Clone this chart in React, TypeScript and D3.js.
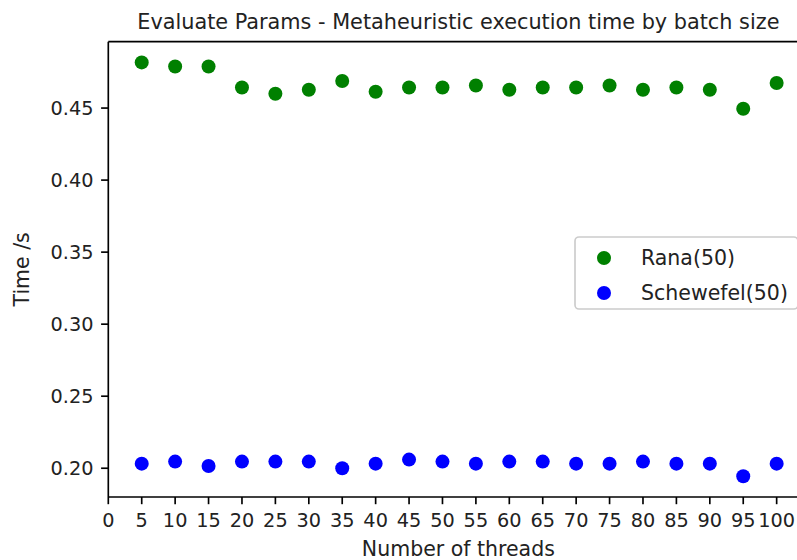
import React from "react";
import * as d3 from "d3";

// Thread counts on the x axis
const threads: number[] = [5, 10, 15, 20, 25, 30, 35, 40, 45, 50, 55, 60, 65, 70, 75, 80, 85, 90, 95, 100];

// Mean execution time (seconds) per thread count
const ranaTimes: number[] = [
  0.4817, 0.4789, 0.4789, 0.4643, 0.4599, 0.4627, 0.4688, 0.4613, 0.4643, 0.4643,
  0.4657, 0.4627, 0.4643, 0.4643, 0.4657, 0.4627, 0.4643, 0.4627, 0.4495, 0.4674,
];
const schewefelTimes: number[] = [
  0.2032, 0.2046, 0.2016, 0.2046, 0.2046, 0.2046, 0.2000, 0.2032, 0.2060, 0.2046,
  0.2032, 0.2046, 0.2046, 0.2032, 0.2032, 0.2046, 0.2032, 0.2032, 0.1944, 0.2032,
];

const xTicks: number[] = d3.range(0, 101, 5);
const yTicks: number[] = [0.2, 0.25, 0.3, 0.35, 0.4, 0.45];

const seriesNames: string[] = ["Rana(50)", "Schewefel(50)"];
const seriesColors: string[] = ["#008000", "#0000ff"];

const W = 797;
const H = 560;
const FONT = "DejaVu Sans, sans-serif";
const FS = 20.5;
const TITLE_FS = 20.8;
const TICK_FS = 19.3;
const TEXT = "#222";

export default function App() {
  const left = 108.3;
  const right = 808.4;
  const top = 41.7;
  const bottom = 497;

  const series = [ranaTimes, schewefelTimes];
  const all = series.flat();
  const [yMin, yMax] = d3.extent(all) as [number, number];
  const pad = (yMax - yMin) * 0.05;
  const xMaxData = d3.max(threads) as number;
  const xMinData = d3.min(threads) as number;
  const xPad = (xMaxData - xMinData) * 0.05;

  const x = d3.scaleLinear().domain([0, xMaxData + xPad]).range([left, right]);
  const y = d3.scaleLinear().domain([yMin - pad, yMax + pad]).range([bottom, top]);

  const tickLen = 7.2;
  const spineW = 1.66;
  const r = 7;

  // legend box
  const legW = 223;
  const legX = right - 10.4 - legW;
  const legY = 237;
  const legH = 72;
  const rowY = [legY + 21, legY + 56];

  return (
    <svg
      width={W}
      height={H}
      viewBox={`0 0 ${W} ${H}`}
      style={{ position: "absolute", left: 0, top: 0, background: "#fff" }}
      fontFamily={FONT}
    >
      <rect x={0} y={0} width={W} height={H} fill="#fff" />

      {/* points */}
      {series.map((vals, si) =>
        vals.map((v, i) => (
          <circle key={`${si}-${i}`} cx={x(threads[i])} cy={y(v)} r={r} fill={seriesColors[si]} />
        ))
      )}

      {/* spines */}
      <line x1={left} x2={left} y1={top} y2={bottom} stroke="#000" strokeWidth={spineW} />
      <line x1={left} x2={right} y1={top} y2={top} stroke="#000" strokeWidth={spineW} />
      <line x1={left} x2={right} y1={bottom} y2={bottom} stroke="#000" strokeWidth={spineW} />
      <line x1={right} x2={right} y1={top} y2={bottom} stroke="#000" strokeWidth={spineW} />

      {/* y ticks */}
      {yTicks.map((t) => (
        <g key={`y${t}`}>
          <line x1={left - tickLen} x2={left} y1={y(t)} y2={y(t)} stroke="#000" strokeWidth={1.66} />
          <text
            x={left - tickLen - 7.6}
            y={y(t)}
            textAnchor="end"
            dominantBaseline="central"
            fontSize={TICK_FS}
            fill={TEXT}
          >
            {t.toFixed(2)}
          </text>
        </g>
      ))}

      {/* x ticks */}
      {xTicks.map((t) => (
        <g key={`x${t}`}>
          <line x1={x(t)} x2={x(t)} y1={bottom} y2={bottom + tickLen} stroke="#000" strokeWidth={1.66} />
          <text x={x(t)} y={bottom + tickLen + 7.2 + 15.2} textAnchor="middle" fontSize={TICK_FS} fill={TEXT}>
            {t}
          </text>
        </g>
      ))}

      {/* axis labels */}
      <text x={(left + right) / 2} y={556} textAnchor="middle" fontSize={FS} fill={TEXT}>
        Number of threads
      </text>
      <text
        transform={`translate(29, ${(top + bottom) / 2}) rotate(-90)`}
        textAnchor="middle"
        fontSize={FS}
        fill={TEXT}
      >
        Time /s
      </text>

      {/* title */}
      <text x={(left + right) / 2} y={29} textAnchor="middle" fontSize={TITLE_FS} fill={TEXT}>
        Evaluate Params - Metaheuristic execution time by batch size
      </text>

      {/* legend */}
      <rect
        x={legX}
        y={legY}
        width={legW}
        height={legH}
        rx={4}
        fill="#fff"
        fillOpacity={0.8}
        stroke="#cccccc"
        strokeWidth={1.66}
      />
      {seriesNames.map((name, i) => (
        <g key={name}>
          <circle cx={legX + 29} cy={rowY[i]} r={r} fill={seriesColors[i]} />
          <text x={legX + 66} y={rowY[i]} dominantBaseline="central" fontSize={FS} fill={TEXT}>
            {name}
          </text>
        </g>
      ))}
    </svg>
  );
}
